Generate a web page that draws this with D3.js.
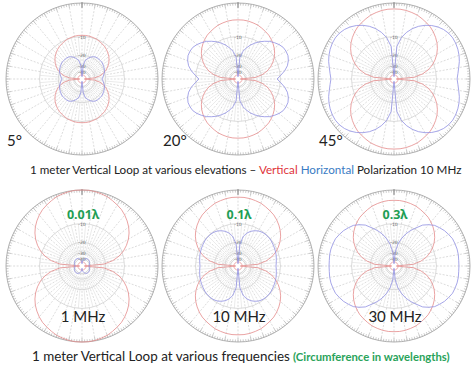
<!DOCTYPE html>
<html>
<head>
<meta charset="utf-8">
<script src="https://cdn.jsdelivr.net/npm/d3@7"></script>
<style>
body { margin: 0; background: #fff; }
svg { display: block; }
</style>
</head>
<body>
<svg width="474" height="373"></svg>
<script>
// azimuth angles (deg from top) for one quadrant, patterns are symmetric
var angles = [0,5,10,15,20,25,30,35,40,45,50,55,60,65,70,75,80,85,90];

// gain in dB, vertical polarization (red)
var red5deg   = [-9.5,-9.5,-9.6,-9.8,-10.0,-10.4,-10.8,-11.2,-11.8,-12.5,-13.3,-14.3,-15.5,-17.0,-18.8,-21.2,-24.7,-30.7,-60];
var red20deg  = [-4.3,-4.3,-4.4,-4.6,-4.8,-5.2,-5.6,-6.0,-6.6,-7.3,-8.1,-9.1,-10.3,-11.8,-13.6,-16.0,-19.5,-25.5,-60];
var red45deg  = [-1.4,-1.4,-1.5,-1.7,-1.9,-2.3,-2.7,-3.1,-3.7,-4.4,-5.2,-6.2,-7.4,-8.9,-10.7,-13.1,-16.6,-22.6,-60];
var red1mhz   = [0,0,-0.1,-0.3,-0.5,-0.9,-1.3,-1.7,-2.3,-3.0,-3.8,-4.8,-6.0,-7.5,-9.3,-11.7,-15.2,-21.2,-60];
var red10mhz  = [-1.7,-1.7,-1.8,-2.0,-2.2,-2.6,-3.0,-3.4,-4.0,-4.7,-5.5,-6.5,-7.7,-9.2,-11.0,-13.4,-16.9,-22.9,-60];
var red30mhz  = [-2.5,-2.5,-2.6,-2.8,-3.0,-3.4,-3.8,-4.2,-4.8,-5.5,-6.3,-7.3,-8.5,-10.0,-11.8,-14.2,-17.7,-23.7,-60];

// gain in dB, horizontal polarization (blue)
var blue5deg  = [-60,-29.0,-23.8,-22.1,-20.5,-19.4,-18.7,-18.4,-18.4,-18.4,-18.4,-18.7,-19.1,-19.4,-19.8,-20.5,-21.3,-22.1,-22.9];
var blue20deg = [-60,-21.3,-17.1,-14.8,-12.8,-11.2,-9.8,-8.6,-7.5,-6.7,-6.0,-5.5,-5.4,-5.5,-6.0,-6.8,-8.1,-9.8,-11.4];
var blue45deg = [-60,-14.5,-10.2,-7.8,-6.0,-4.6,-3.5,-2.6,-1.9,-1.4,-1.1,-1.0,-1.1,-1.3,-1.6,-2.0,-2.5,-2.9,-3.2];
var blue1mhz  = [-60,-50,-45,-42,-40,-38.5,-37.5,-37,-36.6,-36.5,-36.6,-37,-37.5,-38,-38.6,-39.3,-40,-40.5,-41];
var blue10mhz = [-60,-21.3,-16.0,-13.8,-12.4,-11.5,-10.8,-10.4,-10.2,-10.2,-10.2,-10.4,-10.6,-10.8,-11.0,-11.2,-11.5,-11.7,-11.9];
var blue30mhz = [-60,-29.0,-21.3,-17.1,-13.8,-11.4,-9.4,-7.2,-5.9,-4.8,-4.2,-3.6,-3.2,-2.8,-2.7,-2.6,-2.6,-2.7,-2.7];

var cornerLabels = ["5°","20°","45°"];
var waveLabels = ["0.01λ","0.1λ","0.3λ"];
var freqLabels = ["1 MHz","10 MHz","30 MHz"];
var ringLevels = [0,-10,-20,-30,-40];
var ringLabels = ["-10","-20","-30","-40"];
var floorDb = -50;

var plots = [
  {red: red5deg,  blue: blue5deg},
  {red: red20deg, blue: blue20deg},
  {red: red45deg, blue: blue45deg},
  {red: red1mhz,  blue: blue1mhz},
  {red: red10mhz, blue: blue10mhz},
  {red: red30mhz, blue: blue30mhz}
];

var svg = d3.select("svg");
var R = 76;
var colX = d3.scaleLinear().domain([0,2]).range([82,394]);
var rowY = d3.scaleLinear().domain([0,1]).range([79,266]);

// ARRL style log scale: radius goes with field strength ^ 0.506
var rScale = d3.scalePow().exponent(0.506).domain([0,1]).range([0,R]);
var rdb = function(db){ return rScale(Math.pow(10, db/20)); };

// turn a quadrant into a full ring
var fullRing = function(vals){
  var pts = [];
  for (var a = 0; a < 360; a += 5) {
    var q;
    if (a <= 90) q = a;
    else if (a <= 180) q = 180 - a;
    else if (a <= 270) q = a - 180;
    else q = 360 - a;
    pts.push([a, vals[angles.indexOf(q)]]);
  }
  return pts;
};

var line = d3.lineRadial()
  .angle(function(d){ return d[0]*Math.PI/180; })
  .radius(function(d){ return rdb(d[1]); })
  .curve(d3.curveLinearClosed);

var rad = function(d){ return d*Math.PI/180; };

plots.forEach(function(p, i){
  var g = svg.append("g")
    .attr("transform", "translate(" + colX(i%3) + "," + rowY(Math.floor(i/3)) + ")");

  // main spokes every 10 deg, dashed
  var spokes = d3.range(0, 360, 10);
  g.selectAll(".spoke").data(spokes).enter().append("line")
    .attr("x1", function(d){ return rdb(-40)*Math.sin(rad(d)); })
    .attr("y1", function(d){ return -rdb(-40)*Math.cos(rad(d)); })
    .attr("x2", function(d){ return R*Math.sin(rad(d)); })
    .attr("y2", function(d){ return -R*Math.cos(rad(d)); })
    .attr("stroke", "#c4c4c4").attr("stroke-width", 0.6)
    .attr("stroke-dasharray", "2,1.5");

  // in-between spokes on the inner part
  var spokes2 = d3.range(5, 360, 10);
  g.selectAll(".spoke2").data(spokes2).enter().append("line")
    .attr("x1", function(d){ return rdb(-30)*Math.sin(rad(d)); })
    .attr("y1", function(d){ return -rdb(-30)*Math.cos(rad(d)); })
    .attr("x2", function(d){ return rdb(-10)*Math.sin(rad(d)); })
    .attr("y2", function(d){ return -rdb(-10)*Math.cos(rad(d)); })
    .attr("stroke", "#d6d6d6").attr("stroke-width", 0.5);

  // rings
  g.selectAll(".ring").data(ringLevels).enter().append("circle")
    .attr("r", function(d){ return rdb(d); })
    .attr("fill", "none")
    .attr("stroke", function(d){ return d == 0 ? "#b0b0b0" : "#cccccc"; })
    .attr("stroke-width", function(d){ return d == 0 ? 1 : 0.7; });

  // degree ticks on outer ring
  var ticks = d3.range(0, 360, 2);
  g.selectAll(".tick").data(ticks).enter().append("line")
    .attr("x1", function(d){ return R*Math.sin(rad(d)); })
    .attr("y1", function(d){ return -R*Math.cos(rad(d)); })
    .attr("x2", function(d){ var l = d%10==0 ? 4 : 2.5; return (R-l)*Math.sin(rad(d)); })
    .attr("y2", function(d){ var l = d%10==0 ? 4 : 2.5; return -(R-l)*Math.cos(rad(d)); })
    .attr("stroke", "#aaa").attr("stroke-width", 0.6);

  g.append("line").attr("x1",0).attr("x2",0).attr("y1",-R-1).attr("y2",-R+5)
    .attr("stroke","#777").attr("stroke-width",0.8);

  // ring labels
  g.selectAll(".rl").data(ringLabels).enter().append("text")
    .attr("x", 0)
    .attr("y", function(d){ return -rdb(+d) + 2; })
    .attr("text-anchor", "middle")
    .attr("font-family", "DejaVu Sans, sans-serif")
    .attr("font-size", 4.5)
    .attr("fill", "#666")
    .text(function(d){ return d; });

  // pattern floor
  g.append("circle").attr("r", rdb(floorDb))
    .attr("fill", "none").attr("stroke", "#e58c8c").attr("stroke-width", 0.7);

  g.append("path").datum(fullRing(p.red))
    .attr("d", line).attr("fill", "none")
    .attr("stroke", "#e58c8c").attr("stroke-width", 0.8);
  g.append("path").datum(fullRing(p.blue))
    .attr("d", line).attr("fill", "none")
    .attr("stroke", "#8f8fe2").attr("stroke-width", 0.8);
});

var font = "Lato, 'Open Sans', sans-serif";

// elevation labels
svg.selectAll(".elev").data(cornerLabels).enter().append("text")
  .attr("x", function(d, i){ return colX(i) - 75; })
  .attr("y", 146)
  .attr("font-family", font).attr("font-size", 15).attr("fill", "#222")
  .text(function(d){ return d; });

svg.selectAll(".wave").data(waveLabels).enter().append("text")
  .attr("x", function(d, i){ return colX(i) + 1; })
  .attr("y", 219)
  .attr("text-anchor", "middle")
  .attr("font-family", "'Noto Sans', sans-serif").attr("font-weight", "bold")
  .attr("font-size", 12.5).attr("fill", "#1f9e55")
  .text(function(d){ return d; });

svg.selectAll(".freq").data(freqLabels).enter().append("text")
  .attr("x", function(d, i){ return colX(i) + 1; })
  .attr("y", 322)
  .attr("text-anchor", "middle")
  .attr("font-family", font).attr("font-size", 15).attr("fill", "#222")
  .text(function(d){ return d; });

// fit a text element to a width by changing its font size
var fit = function(t, w){
  var fs = +t.attr("font-size");
  var cur = t.node().getComputedTextLength();
  t.attr("font-size", fs * w / cur);
};

var t1 = svg.append("text").attr("x", 30).attr("y", 174)
  .attr("font-family", font).attr("font-size", 12).attr("fill", "#222");
t1.append("tspan").text("1 meter Vertical Loop at various elevations –  ");
t1.append("tspan").attr("fill", "#e0343a").text("Vertical ");
t1.append("tspan").attr("fill", "#3a7cc4").text("Horizontal ");
t1.append("tspan").text("Polarization 10 MHz");
fit(t1, 432);

var t2 = svg.append("text").attr("x", 32).attr("y", 361)
  .attr("font-family", font).attr("font-size", 14).attr("fill", "#222")
  .text("1 meter Vertical Loop at various frequencies");
fit(t2, 258);
var t3 = svg.append("text").attr("x", 293).attr("y", 361)
  .attr("font-family", font).attr("font-weight", "bold").attr("font-size", 10).attr("fill", "#2aa35a")
  .text("(Circumference in wavelengths)");
fit(t3, 157);
</script>
</body>
</html>
